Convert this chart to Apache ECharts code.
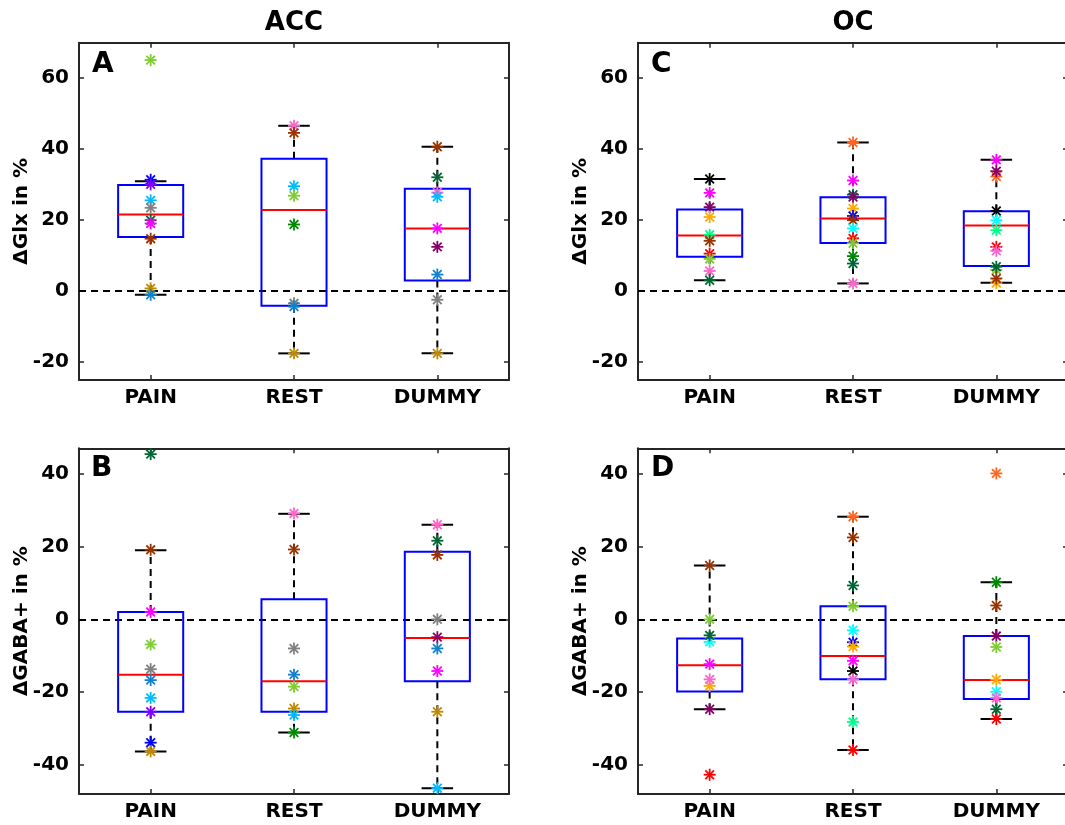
<!DOCTYPE html>
<html>
<head>
<meta charset="utf-8">
<title>ΔGlx and ΔGABA+ by condition</title>
<script src="https://cdn.jsdelivr.net/npm/echarts@6/dist/echarts.min.js"></script>
<style>
  html, body { margin: 0; padding: 0; background: #fff; }
  #chart { width: 1065px; height: 825px; }
</style>
</head>
<body>
<div id="chart"></div>
<script>
// ---- data -------------------------------------------------------------
const CATEGORIES = ['PAIN', 'REST', 'DUMMY'];
const GLX_TICKS = [-20, 0, 20, 40, 60];
const GABA_TICKS = [-40, -20, 0, 20, 40];
const GLX_RANGE = [-25, 70];
const GABA_RANGE = [-48, 47];

// one colour per participant (index = participant id)
const SUBJECT_COLORS = [
  '#7FCC33', '#0000FF', '#8000FF', '#00BBFF', '#808080',
  '#006633', '#FF00FF', '#993300', '#C08A00', '#1380CC',
  '#FF66CC', '#008800', '#880066', '#FFAA00', '#FF0000',
  '#000000', '#00FF88', '#00FFFF', '#FF6622', '#006650'
];

// box statistics per condition: [lower whisker, Q1, median, Q3, upper whisker]
const accGlxBox = [[-1.0, 15.3, 21.6, 29.9, 31.0], [-17.5, -4.1, 22.9, 37.3, 46.6], [-17.5, 3.0, 17.7, 28.9, 40.7]];
const ocGlxBox = [[3.1, 9.7, 15.7, 23.0, 31.6], [2.2, 13.6, 20.5, 26.5, 41.9], [2.4, 7.1, 18.5, 22.5, 37.0]];
const accGabaBox = [[-36.3, -25.4, -15.2, 2.0, 19.0], [-31.1, -25.4, -17.0, 5.5, 29.0], [-46.4, -17.0, -5.1, 18.6, 26.0]];
const ocGabaBox = [[-24.7, -19.8, -12.6, -5.3, 14.8], [-35.9, -16.5, -10.1, 3.6, 28.2], [-27.4, -21.9, -16.7, -4.6, 10.2]];

// individual changes: [participant, value in %]
const accGlxPain = [[0, 65.1], [1, 31.4], [2, 30.1], [3, 25.6], [4, 23.5], [5, 20.0], [6, 19.1], [7, 14.8], [8, 0.8], [9, -1.0]];
const accGlxRest = [[10, 46.6], [7, 44.6], [3, 29.6], [0, 26.9], [11, 18.8], [4, -3.4], [9, -4.3], [8, -17.5]];
const accGlxDummy = [[7, 40.7], [5, 32.1], [10, 27.8], [3, 26.6], [6, 17.7], [12, 12.5], [9, 4.7], [4, -2.4], [8, -17.5]];

const ocGlxPain = [[15, 31.6], [6, 27.7], [12, 23.7], [13, 20.9], [16, 15.9], [7, 14.2], [14, 10.6], [0, 9.1], [10, 5.7], [5, 3.1]];
const ocGlxRest = [[18, 41.9], [6, 31.2], [19, 27.2], [12, 26.5], [13, 23.3], [1, 21.2], [7, 20.0], [17, 17.7], [14, 14.9], [0, 13.5], [11, 9.9], [5, 7.8], [10, 2.2]];
const ocGlxDummy = [[6, 37.0], [18, 32.3], [12, 33.8], [15, 22.6], [17, 20.0], [16, 17.2], [14, 12.5], [10, 11.4], [0, 6.0], [5, 6.9], [13, 2.3], [7, 3.6]];

const accGabaPain = [[5, 45.4], [7, 19.1], [6, 2.0], [0, -6.9], [4, -13.7], [9, -16.7], [3, -21.6], [2, -25.4], [1, -33.9], [8, -36.3]];
const accGabaRest = [[10, 29.1], [7, 19.2], [4, -8.0], [9, -15.2], [0, -18.5], [8, -24.5], [3, -26.3], [11, -31.1]];
const accGabaDummy = [[10, 26.0], [5, 21.6], [7, 17.7], [4, 0.0], [12, -4.9], [9, -8.0], [6, -14.2], [8, -25.4], [3, -46.4]];

const ocGabaPain = [[7, 14.8], [0, 0.0], [17, -6.2], [5, -4.4], [6, -12.3], [13, -18.3], [10, -16.5], [12, -24.7], [14, -42.7]];
const ocGabaRest = [[18, 28.2], [7, 22.5], [5, 9.3], [0, 3.6], [17, -3.0], [1, -6.3], [13, -7.5], [6, -11.4], [15, -14.2], [10, -16.5], [16, -28.2], [14, -35.9]];
const ocGabaDummy = [[18, 40.1], [11, 10.2], [7, 3.8], [12, -4.6], [0, -7.6], [13, -16.6], [17, -19.9], [10, -21.6], [5, -24.7], [14, -27.4]];

// ---- layout -----------------------------------------------------------
const FONT = 'DejaVu Sans';
const AXIS_COLOR = '#262626';

const panels = [
  { letter: 'A', grid: { left: 79, top: 42.7, width: 430, height: 337.3 }, range: GLX_RANGE, ticks: GLX_TICKS,
    yName: 'ΔGlx in %', box: accGlxBox, points: [accGlxPain, accGlxRest, accGlxDummy] },
  { letter: 'C', grid: { left: 638, top: 42.7, width: 430, height: 337.3 }, range: GLX_RANGE, ticks: GLX_TICKS,
    yName: 'ΔGlx in %', box: ocGlxBox, points: [ocGlxPain, ocGlxRest, ocGlxDummy] },
  { letter: 'B', grid: { left: 79, top: 448.3, width: 430, height: 345.7 }, range: GABA_RANGE, ticks: GABA_TICKS,
    yName: 'ΔGABA+ in %', box: accGabaBox, points: [accGabaPain, accGabaRest, accGabaDummy] },
  { letter: 'D', grid: { left: 638, top: 448.3, width: 430, height: 345.7 }, range: GABA_RANGE, ticks: GABA_TICKS,
    yName: 'ΔGABA+ in %', box: ocGabaBox, points: [ocGabaPain, ocGabaRest, ocGabaDummy] }
];

// MATLAB-style box: blue outline, red median, dashed black whiskers with short caps
function renderBox(params, api) {
  const c = api.value(0);
  const band = api.size([1, 0])[0];
  const hb = band * 0.227;
  const hc = band * 0.11;
  const y = [1, 2, 3, 4, 5].map(function (i) { return api.coord([c, api.value(i)])[1]; });
  const x = api.coord([c, api.value(3)])[0];
  const dash = { stroke: '#000', lineWidth: 2, lineDash: [7, 5], fill: null };
  const solid = { stroke: '#000', lineWidth: 2, fill: null };
  return {
    type: 'group',
    children: [
      { type: 'line', shape: { x1: x, y1: y[3], x2: x, y2: y[4] }, style: dash },
      { type: 'line', shape: { x1: x, y1: y[1], x2: x, y2: y[0] }, style: dash },
      { type: 'line', shape: { x1: x - hc, y1: y[4], x2: x + hc, y2: y[4] }, style: solid },
      { type: 'line', shape: { x1: x - hc, y1: y[0], x2: x + hc, y2: y[0] }, style: solid },
      { type: 'rect', shape: { x: x - hb, y: y[3], width: 2 * hb, height: y[1] - y[3] },
        style: { fill: null, stroke: '#0000FF', lineWidth: 2 } },
      { type: 'line', shape: { x1: x - hb, y1: y[2], x2: x + hb, y2: y[2] },
        style: { stroke: '#FF0000', lineWidth: 2 } }
    ]
  };
}

// asterisk marker for one participant
function renderStar(params, api) {
  const p = api.coord([api.value(0), api.value(1)]);
  const color = SUBJECT_COLORS[api.value(2)];
  const r = 6, d = r * 0.72;
  const st = { stroke: color, lineWidth: 1.8 };
  return {
    type: 'group',
    children: [
      { type: 'line', shape: { x1: p[0] - r, y1: p[1], x2: p[0] + r, y2: p[1] }, style: st },
      { type: 'line', shape: { x1: p[0], y1: p[1] - r, x2: p[0], y2: p[1] + r }, style: st },
      { type: 'line', shape: { x1: p[0] - d, y1: p[1] - d, x2: p[0] + d, y2: p[1] + d }, style: st },
      { type: 'line', shape: { x1: p[0] - d, y1: p[1] + d, x2: p[0] + d, y2: p[1] - d }, style: st }
    ]
  };
}

const grids = [], xAxes = [], yAxes = [], series = [];
const labelStyle = { fontFamily: FONT, fontWeight: 'bold', fontSize: 20, color: '#000' };

panels.forEach(function (pn, i) {
  grids.push(Object.assign({ outerBoundsMode: 'none', containLabel: false }, pn.grid));
  const lineStyle = { color: AXIS_COLOR, width: 2 };
  const tickStyle = { color: AXIS_COLOR, width: 1.5 };
  // bottom and top category axes (top one only frames the plot)
  xAxes.push({
    type: 'category', gridIndex: i, data: CATEGORIES, position: 'bottom',
    axisLine: { show: true, onZero: false, lineStyle: lineStyle },
    axisTick: { show: true, inside: true, alignWithLabel: true, length: 5, lineStyle: tickStyle },
    axisLabel: Object.assign({ margin: 8 }, labelStyle),
    splitLine: { show: false }
  });
  xAxes.push({
    type: 'category', gridIndex: i, data: CATEGORIES, position: 'top',
    axisLine: { show: true, onZero: false, lineStyle: lineStyle },
    axisTick: { show: true, inside: true, alignWithLabel: true, length: 5, lineStyle: tickStyle },
    axisLabel: { show: false },
    splitLine: { show: false }
  });
  yAxes.push({
    type: 'value', gridIndex: i, min: pn.range[0], max: pn.range[1], position: 'left',
    name: pn.yName, nameLocation: 'middle', nameGap: 47, nameMoveOverlap: false,
    nameTextStyle: { fontFamily: FONT, fontWeight: 'bold', fontSize: 20, color: '#000' },
    axisLine: { show: true, onZero: false, lineStyle: lineStyle },
    axisTick: { show: true, inside: true, length: 5, customValues: pn.ticks, lineStyle: tickStyle },
    axisLabel: Object.assign({ margin: 10, customValues: pn.ticks }, labelStyle),
    splitLine: { show: false }
  });
  yAxes.push({
    type: 'value', gridIndex: i, min: pn.range[0], max: pn.range[1], position: 'right',
    axisLine: { show: true, onZero: false, lineStyle: lineStyle },
    axisTick: { show: true, inside: true, length: 5, customValues: pn.ticks, lineStyle: tickStyle },
    axisLabel: { show: false },
    splitLine: { show: false }
  });

  series.push({
    type: 'custom', xAxisIndex: 2 * i, yAxisIndex: 2 * i, z: 2,
    renderItem: renderBox,
    encode: { x: 0, y: [1, 2, 3, 4, 5] },
    data: pn.box.map(function (b, k) { return [k].concat(b); }),
    markLine: {
      silent: true, symbol: 'none', z: 1,
      label: { show: false },
      lineStyle: { color: '#000', width: 2, type: [7, 5] },
      data: [{ yAxis: 0 }]
    }
  });

  const pts = [];
  pn.points.forEach(function (arr, k) {
    arr.forEach(function (sv) { pts.push([k, sv[1], sv[0]]); });
  });
  series.push({
    type: 'custom', xAxisIndex: 2 * i, yAxisIndex: 2 * i, z: 3,
    renderItem: renderStar,
    encode: { x: 0, y: 1 },
    data: pts
  });
});

const titleStyle = { fontFamily: FONT, fontWeight: 'bold', fill: '#000' };
const graphics = [
  { type: 'text', x: 294, y: 23, style: Object.assign({ text: 'ACC', fontSize: 26, textAlign: 'center', textVerticalAlign: 'middle' }, titleStyle) },
  { type: 'text', x: 853, y: 23, style: Object.assign({ text: 'OC', fontSize: 26, textAlign: 'center', textVerticalAlign: 'middle' }, titleStyle) }
];
const letterPos = { A: [92, 65], C: [651, 65], B: [91, 469], D: [651, 469] };
panels.forEach(function (pn) {
  const lp = letterPos[pn.letter];
  graphics.push({ type: 'text', x: lp[0], y: lp[1], z: 10,
    style: Object.assign({ text: pn.letter, fontSize: 28, textAlign: 'left', textVerticalAlign: 'middle' }, titleStyle) });
});

const chart = echarts.init(document.getElementById('chart'), null, { renderer: 'canvas' });
chart.setOption({
  animation: false,
  backgroundColor: '#fff',
  grid: grids,
  xAxis: xAxes,
  yAxis: yAxes,
  series: series,
  graphic: graphics
});
</script>
</body>
</html>
